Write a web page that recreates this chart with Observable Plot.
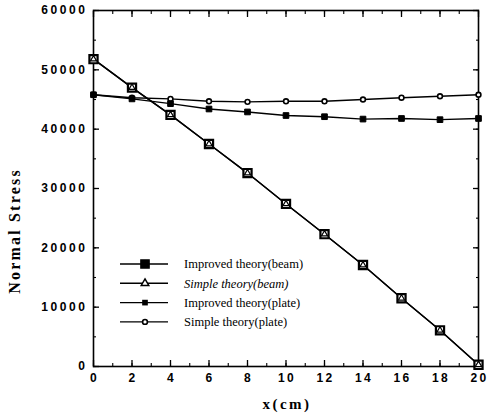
<!DOCTYPE html>
<html>
<head>
<meta charset="utf-8">
<script src="https://cdn.jsdelivr.net/npm/d3@7"></script>
<script src="https://cdn.jsdelivr.net/npm/@observablehq/plot@0.6"></script>
<style>
  html, body { margin: 0; padding: 0; background: #fff; }
  #wrap { position: relative; width: 488px; height: 414px; }
  #legend { position: absolute; left: 0; top: 0; }
  g[aria-label="y-axis tick label"] text { letter-spacing: 2.6px; }
  g[aria-label="x-axis tick label"] text { letter-spacing: 2.4px; }
</style>
</head>
<body>
<div id="wrap"><div id="chart"></div><svg id="legend" width="488" height="414"></svg></div>
<script>
const xs = [0, 2, 4, 6, 8, 10, 12, 14, 16, 18, 20];
const improvedBeam = [51800, 47000, 42400, 37500, 32600, 27400, 22300, 17100, 11500, 6100, 300];
const simpleBeam   = [51800, 47000, 42400, 37500, 32600, 27400, 22300, 17100, 11500, 6100, 300];
const improvedPlate = [45800, 45100, 44300, 43400, 42900, 42300, 42100, 41700, 41800, 41600, 41800];
const simplePlate   = [45800, 45300, 45100, 44700, 44600, 44700, 44700, 45000, 45300, 45550, 45800];
const seriesNames = ["Improved theory(beam)", "Simple theory(beam)", "Improved theory(plate)", "Simple theory(plate)"];
const xTicks = [0, 2, 4, 6, 8, 10, 12, 14, 16, 18, 20];
const yTicks = [0, 10000, 20000, 30000, 40000, 50000, 60000];

const rows = (ys, name) => xs.map((x, i) => ({x, y: ys[i], name}));
const dIB = rows(improvedBeam, seriesNames[0]);
const dSB = rows(simpleBeam, seriesNames[1]);
const dIP = rows(improvedPlate, seriesNames[2]);
const dSP = rows(simplePlate, seriesNames[3]);

const minorX = d3.range(0, 21, 1);
const minorY = d3.range(0, 60001, 5000);
const tickFont = {fontFamily: "Liberation Sans, Arial, sans-serif", fontWeight: "bold", fontSize: 12};
const tk = (opts) => ({text: null, label: null, ...opts});

const chart = Plot.plot({
  width: 488, height: 414,
  marginLeft: 93, marginRight: 10, marginTop: 10, marginBottom: 48,
  style: {background: "#fff", color: "#000"},
  x: {domain: [0, 20]},
  y: {domain: [0, 60000]},
  marks: [
    Plot.frame({stroke: "#000", strokeWidth: 1.6}),
    // inward ticks
    Plot.axisX(xTicks, tk({anchor: "bottom", tickSize: -6, strokeWidth: 1.3})),
    Plot.axisX(minorX, tk({anchor: "bottom", tickSize: -3, strokeWidth: 1.1})),
    Plot.axisX(xTicks, tk({anchor: "top", tickSize: -6, strokeWidth: 1.3})),
    Plot.axisX(minorX, tk({anchor: "top", tickSize: -3, strokeWidth: 1.1})),
    Plot.axisY(yTicks, tk({anchor: "left", tickSize: -6, strokeWidth: 1.3})),
    Plot.axisY(minorY, tk({anchor: "left", tickSize: -3, strokeWidth: 1.1})),
    Plot.axisY(yTicks, tk({anchor: "right", tickSize: -6, strokeWidth: 1.3})),
    Plot.axisY(minorY, tk({anchor: "right", tickSize: -3, strokeWidth: 1.1})),
    // labels
    Plot.axisX(xTicks, {anchor: "bottom", tickSize: 0, tickPadding: 7, label: null, tickFormat: d => String(d), ...tickFont, dx: 1}),
    Plot.axisY(yTicks, {anchor: "left", tickSize: 0, tickPadding: 6, label: null, tickFormat: d => String(d), ...tickFont}),
    // lines
    Plot.line(dSP, {x: "x", y: "y", stroke: "#000", strokeWidth: 1.4}),
    Plot.line(dIP, {x: "x", y: "y", stroke: "#000", strokeWidth: 1.4}),
    Plot.line(dSB, {x: "x", y: "y", stroke: "#000", strokeWidth: 1.4}),
    Plot.line(dIB, {x: "x", y: "y", stroke: "#000", strokeWidth: 1.4}),
    // markers
    Plot.dot(dSP, {x: "x", y: "y", symbol: "circle", r: 2.4, fill: "#fff", stroke: "#000", strokeWidth: 1.6}),
    Plot.dot(dIP, {x: "x", y: "y", symbol: "square", r: 3.2, fill: "#000", stroke: "#000", strokeWidth: 1}),
    Plot.dot(dIB, {x: "x", y: "y", symbol: "square", r: 4.6, fill: "#fff", stroke: "#000", strokeWidth: 2.2}),
    Plot.dot(dSB, {x: "x", y: "y", symbol: "triangle", r: 2.3, fill: "#fff", stroke: "#000", strokeWidth: 1.2})
  ]
});
chart.style.display = "block";
document.getElementById("chart").appendChild(chart);

// axis titles
const svg = d3.select(chart);
svg.append("text")
  .attr("x", 287).attr("y", 409)
  .attr("text-anchor", "middle")
  .attr("font-family", "Liberation Serif, Times New Roman, serif")
  .attr("font-weight", "bold").attr("font-size", 15)
  .attr("letter-spacing", "2.5px")
  .text("x(cm)");
svg.append("text")
  .attr("transform", "translate(20,231) rotate(-90)")
  .attr("text-anchor", "middle")
  .attr("font-family", "Liberation Serif, Times New Roman, serif")
  .attr("font-weight", "bold").attr("font-size", 16)
  .attr("letter-spacing", "2.2px")
  .text("Normal Stress");

// legend overlay
const lg = d3.select("#legend");
const legendItems = [
  {name: seriesNames[0], italic: false, draw: g => { g.append("path").attr("d", d3.symbol(d3.symbolSquare, Math.PI * 4.6 * 4.6)()).attr("fill", "#000").attr("stroke", "#000").attr("stroke-width", 1.5); }},
  {name: seriesNames[1], italic: true, draw: g => { g.append("path").attr("d", d3.symbol(d3.symbolTriangle, Math.PI * 2.8 * 2.8)()).attr("fill", "#fff").attr("stroke", "#000").attr("stroke-width", 1.5); }},
  {name: seriesNames[2], italic: false, draw: g => { g.append("path").attr("d", d3.symbol(d3.symbolSquare, Math.PI * 3.2 * 3.2)()).attr("fill", "#000"); }},
  {name: seriesNames[3], italic: false, draw: g => { g.append("path").attr("d", d3.symbol(d3.symbolCircle, Math.PI * 2.4 * 2.4)()).attr("fill", "#fff").attr("stroke", "#000").attr("stroke-width", 1.6); }}
];
legendItems.forEach((it, i) => {
  const y = 264 + i * 19.3;
  const g = lg.append("g");
  g.append("line").attr("x1", 120).attr("x2", 168).attr("y1", y).attr("y2", y).attr("stroke", "#000").attr("stroke-width", 1.4);
  it.draw(g.append("g").attr("transform", `translate(145,${y})`));
  g.append("text").attr("x", 184).attr("y", y).attr("dy", "0.35em")
    .attr("font-family", "Liberation Serif, Times New Roman, serif")
    .attr("font-size", 12.5)
    .attr("font-style", it.italic ? "italic" : "normal")
    .text(it.name);
});
</script>
</body>
</html>
